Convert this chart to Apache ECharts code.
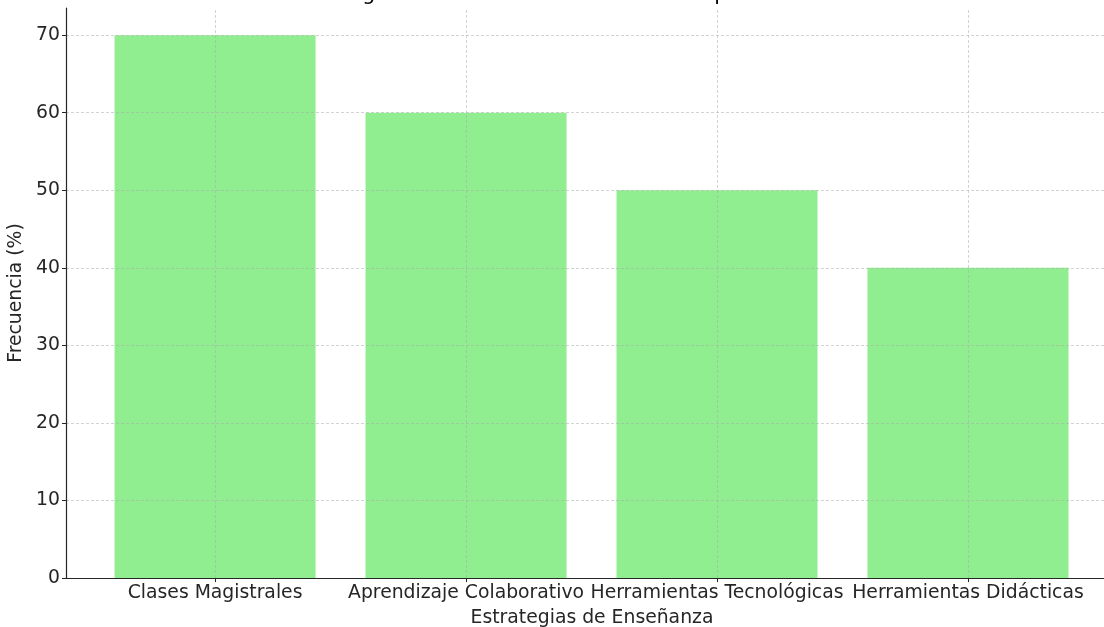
<!DOCTYPE html>
<html>
<head>
<meta charset="utf-8">
<script src="https://cdn.jsdelivr.net/npm/echarts@6/dist/echarts.min.js"></script>
<style>html,body{margin:0;padding:0;background:#fff}#c{width:1104px;height:627px}</style>
</head>
<body>
<div id="c"></div>
<script>
const title = "Estrategias de Enseñanza Más Utilizadas por los Docentes";
const categories = ["Clases Magistrales", "Aprendizaje Colaborativo", "Herramientas Tecnológicas", "Herramientas Didácticas"];
const values = [70, 60, 50, 40];
const yTicks = [0, 10, 20, 30, 40, 50, 60, 70];
const xLabel = "Estrategias de Enseñanza";
const yLabel = "Frecuencia (%)";

const positions = categories.map((c, i) => i);
const chart = echarts.init(document.getElementById('c'), null, {renderer: 'canvas'});
const font = "DejaVu Sans";
const textColor = "#262626";
const fs = 18.8;
chart.setOption({
  animation: false,
  backgroundColor: '#ffffff',
  title: {
    text: title, left: 284, top: -21,
    textStyle: {fontFamily: font, fontSize: 20.5, fontWeight: 'normal', color: '#000'}
  },
  grid: {left: 66, right: 0, top: 8, bottom: 49, containLabel: false, outerBoundsMode: 'none'},
  xAxis: {
    type: 'value', min: -0.594, max: 3.542, z: 5,
    name: xLabel, nameLocation: 'middle', nameGap: 31,
    nameTextStyle: {fontFamily: font, fontSize: fs, color: textColor, padding: [0, 0, 0, 14]},
    axisLine: {show: true, onZero: false, lineStyle: {color: '#262626', width: 1.2}},
    axisTick: {show: true, customValues: positions, length: 4, lineStyle: {color: '#262626'}},
    axisLabel: {
      customValues: positions, margin: 6,
      fontFamily: font, fontSize: fs, color: textColor,
      formatter: v => categories[Math.round(v)]
    },
    splitLine: {show: false}
  },
  yAxis: {
    type: 'value', min: 0, max: 73.5, z: 5,
    name: yLabel, nameLocation: 'middle', nameGap: 32, nameRotate: 90,
    nameTextStyle: {fontFamily: font, fontSize: fs, color: textColor},
    axisLine: {show: true, onZero: false, lineStyle: {color: '#262626', width: 1.2}},
    axisTick: {show: true, customValues: yTicks, length: 4, lineStyle: {color: '#262626'}},
    axisLabel: {customValues: yTicks, margin: 6, fontFamily: font, fontSize: fs, color: textColor},
    splitLine: {show: false}
  },
  series: [
    {
      type: 'bar', z: 1,
      data: positions.map((p, i) => [p, values[i]]),
      barWidth: 201,
      itemStyle: {color: '#90EE90'}
    },
    {
      type: 'line', z: 3, silent: true, symbol: 'none', data: [],
      markLine: {
        silent: true, symbol: 'none', label: {show: false},
        lineStyle: {color: 'rgba(170,170,170,0.65)', width: 0.8, type: [3, 2]},
        data: positions.map(p => ({xAxis: p})).concat(yTicks.filter(t => t > 0).map(t => ({yAxis: t})))
      }
    }
  ]
});
</script>
</body>
</html>
